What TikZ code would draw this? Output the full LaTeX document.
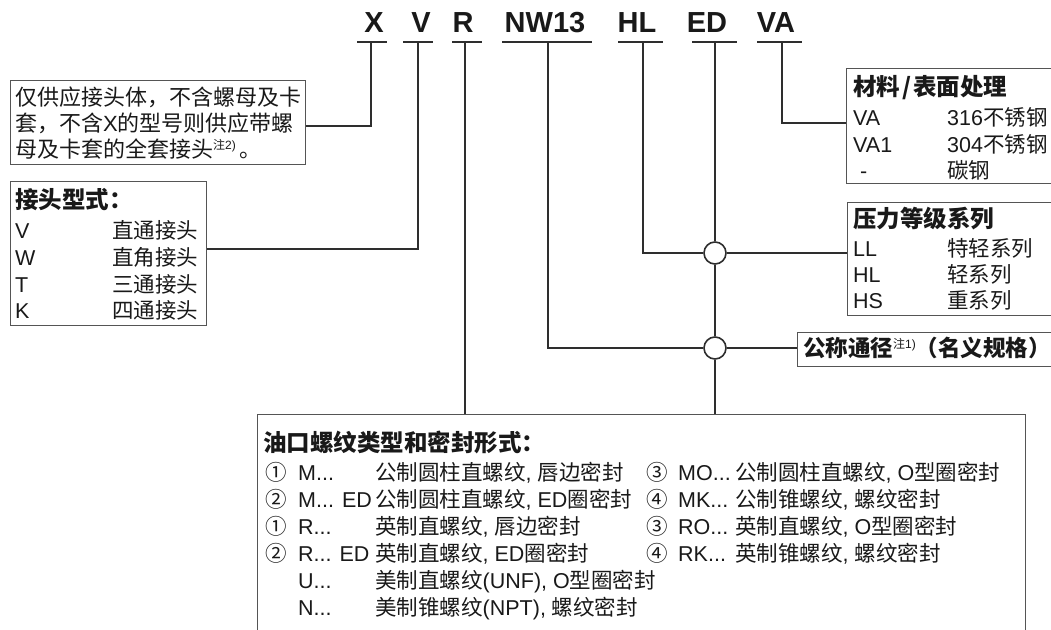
\documentclass[tikz,border=0pt]{standalone}
\usepackage{fontspec}
\setmainfont{Liberation Sans}
\newfontfamily\zhfont{Noto Sans CJK SC}
\newcommand\zh[1]{{\zhfont #1}}
\newcommand\zhsup[1]{\raisebox{8pt}{\mdseries\fontsize{12}{12}\selectfont #1}}
\definecolor{wiregray}{HTML}{2E2E2E}
\definecolor{boxgray}{HTML}{555555}

\begin{document}
\begin{tikzpicture}[x=1pt,y=-1pt,
  box/.style={draw=boxgray, line width=1.4pt, anchor=north west, inner sep=0},
  wire/.style={draw=wiregray, line width=1.8pt},
  uline/.style={draw=wiregray, line width=2pt},
  hop/.style={circle, draw=wiregray, fill=white, line width=1.6pt, minimum size=22pt, inner sep=0},
  txt/.style={anchor=base west, inner sep=0, text=black!90, font=\fontsize{21.5}{24}\selectfont},
  head/.style={txt, font=\fontsize{23.5}{26}\selectfont\bfseries},
  code/.style={anchor=base, inner sep=0, text=black!90, font=\fontsize{29}{31}\selectfont\bfseries}]
\useasboundingbox (0,0) rectangle (1051,629);
%\draw [lightgray](0,0) grid[step=50] (1051,629);

% order code
\node[code] (cX)  at (374,32) {X};
\node[code] (cV)  at (421,32) {V};
\node[code] (cR)  at (463,32) {R};
\node[code] (cNW) at (545,32) {NW13};
\node[code] (cHL) at (637,32) {HL};
\node[code] (cED) at (707,32) {ED};
\node[code] (cVA) at (776,32) {VA};

\draw[uline] (357,42) -- (387,42);
\draw[uline] (403,42) -- (433,42);
\draw[uline] (452,42) -- (482,42);
\draw[uline] (502,42) -- (592,42);
\draw[uline] (618,42) -- (663,42);
\draw[uline] (692,42) -- (737,42);
\draw[uline] (757,42) -- (802,42);

\coordinate (uX)  at (371,42);
\coordinate (uV)  at (418,42);
\coordinate (uR)  at (465,42);
\coordinate (uNW) at (548,42);
\coordinate (uHL) at (643,42);
\coordinate (uED) at (715,42);
\coordinate (uVA) at (782,42);

% note box
\node[box, minimum width=295, minimum height=84] (note) at (10,80) {};
\node[txt, font=\fontsize{22}{24}\selectfont] (note1) at (15,105) {\zh{仅供应接头体，不含螺母及卡}};
\node[txt, font=\fontsize{22}{24}\selectfont] (note2) at (15,131) {\zh{套，不含}X\zh{的型号则供应带螺}};
\node[txt, font=\fontsize{22}{24}\selectfont] (note3) at (15,157) {\zh{母及卡套的全套接头}\zhsup{\zh{注}2)}\,\zh{。}};

% fitting type
\node[box, minimum width=196, minimum height=144] (type) at (10,181) {};
\node[head] (typeh)  at (15,208)   {\zh{接头型式：}};
\node[txt]  (typeV)  at (15,238.5) {V};
\node[txt]  (typeVd) at (112,238.5) {\zh{直通接头}};
\node[txt]  (typeW)  at (15,265)   {W};
\node[txt]  (typeWd) at (112,265)  {\zh{直角接头}};
\node[txt]  (typeT)  at (15,292)   {T};
\node[txt]  (typeTd) at (112,292)  {\zh{三通接头}};
\node[txt]  (typeK)  at (15,318.5) {K};
\node[txt]  (typeKd) at (112,318.5) {\zh{四通接头}};

% material
\node[box, minimum width=212, minimum height=115] (mat) at (846,68) {};
\node[head] (math)   at (853,95)  {\zh{材料\hspace{2pt}/\hspace{2pt}表面处理}};
\node[txt]  (matVA)  at (853,125) {VA};
\node[txt]  (matVAd) at (947,125) {316\zh{不锈钢}};
\node[txt]  (matV1)  at (853,152) {VA1};
\node[txt]  (matV1d) at (947,152) {304\zh{不锈钢}};
\node[txt]  (matC)   at (860,178) {-};
\node[txt]  (matCd)  at (947,178) {\zh{碳钢}};

% pressure series
\node[box, minimum width=211, minimum height=113] (press) at (847,202) {};
\node[head] (pressh)  at (853,227) {\zh{压力等级系列}};
\node[txt]  (pressLL) at (853,256) {LL};
\node[txt]  (pressLLd) at (947,256) {\zh{特轻系列}};
\node[txt]  (pressHL) at (853,282) {HL};
\node[txt]  (pressHLd) at (947,282) {\zh{轻系列}};
\node[txt]  (pressHS) at (853,308) {HS};
\node[txt]  (pressHSd) at (947,308) {\zh{重系列}};

% nominal size
\node[box, minimum width=261, minimum height=34] (size) at (797,332) {};
\node[head, font=\fontsize{22.5}{26}\selectfont\bfseries] (sizeh) at (803,356) {\zh{公称通径}\zhsup{\zh{注}1)}\zh{（名义规格）}};

% port thread
\node[box, minimum width=768, minimum height=240] (port) at (257,414) {};
\node[head] (porth) at (263,451) {\zh{油口螺纹类型和密封形式：}};
\node[txt] (p1n) at (265,480) {\zh{①}};
\node[txt] (p1c) at (298,480) {M...};
\node[txt] (p1d) at (375,480) {\zh{公制圆柱直螺纹}, \zh{唇边密封}};
\node[txt] (p2n) at (265,507) {\zh{②}};
\node[txt] (p2c) at (298,507) {M... ED};
\node[txt] (p2d) at (375,507) {\zh{公制圆柱直螺纹}, ED\zh{圈密封}};
\node[txt] (p3n) at (265,534) {\zh{①}};
\node[txt] (p3c) at (298,534) {R...};
\node[txt] (p3d) at (375,534) {\zh{英制直螺纹}, \zh{唇边密封}};
\node[txt] (p4n) at (265,561) {\zh{②}};
\node[txt] (p4c) at (298,561) {R... ED};
\node[txt] (p4d) at (375,561) {\zh{英制直螺纹}, ED\zh{圈密封}};
\node[txt] (p5c) at (298,588) {U...};
\node[txt] (p5d) at (375,588) {\zh{美制直螺纹}(UNF), O\zh{型圈密封}};
\node[txt] (p6c) at (298,615) {N...};
\node[txt] (p6d) at (375,615) {\zh{美制锥螺纹}(NPT), \zh{螺纹密封}};
\node[txt] (q1n) at (646,480) {\zh{③}};
\node[txt] (q1c) at (678,480) {MO...};
\node[txt] (q1d) at (735,480) {\zh{公制圆柱直螺纹}, O\zh{型圈密封}};
\node[txt] (q2n) at (646,507) {\zh{④}};
\node[txt] (q2c) at (678,507) {MK...};
\node[txt] (q2d) at (735,507) {\zh{公制锥螺纹}, \zh{螺纹密封}};
\node[txt] (q3n) at (646,534) {\zh{③}};
\node[txt] (q3c) at (678,534) {RO...};
\node[txt] (q3d) at (735,534) {\zh{英制直螺纹}, O\zh{型圈密封}};
\node[txt] (q4n) at (646,561) {\zh{④}};
\node[txt] (q4c) at (678,561) {RK...};
\node[txt] (q4d) at (735,561) {\zh{英制锥螺纹}, \zh{螺纹密封}};

% crossings
\node[hop] (hopHL) at (715,253) {};
\node[hop] (hopNW) at (715,348) {};

% leader lines
\draw[wire] (uX) |- (note.east |- 0,126);
\draw[wire] (uV) |- (type.east |- 0,249);
\draw[wire] (uR) -- (uR |- port.north);
\draw[wire] (uNW) |- (hopNW.west);
\draw[wire] (hopNW.east) -- (hopNW.east -| size.west);
\draw[wire] (uHL) |- (hopHL.west);
\draw[wire] (hopHL.east) -- (hopHL.east -| press.west);
\draw[wire] (uED) -- (hopHL.north);
\draw[wire] (hopHL.south) -- (hopNW.north);
\draw[wire] (hopNW.south) -- (uED |- port.north);
\draw[wire] (uVA) |- (mat.west |- 0,123);
\end{tikzpicture}
\end{document}
